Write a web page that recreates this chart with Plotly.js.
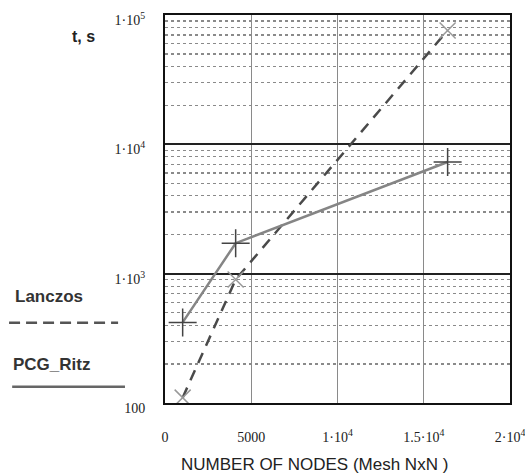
<!DOCTYPE html>
<html>
<head>
<meta charset="utf-8">
<script src="https://cdn.plot.ly/plotly-3.0.1.min.js"></script>
<style>html,body{margin:0;padding:0;background:#fff;}#chart{width:525px;height:474px;}</style>
</head>
<body>
<div id="chart"></div>
<script>
// Data
var nodes = [1024, 4096, 16384];
var pcgRitz = [420, 1720, 7300];
var lanczos = [110, 900, 76000];

var xTickVals = [0, 5000, 10000, 15000, 20000];
var xTickText = ['0', '5000', '1\u00b710<sup>4</sup>', '1.5\u00b710<sup>4</sup>', '2\u00b710<sup>4</sup>'];
var yTickVals = [100, 1000, 10000, 100000];
var yTickText = ['100', '1\u00b710<sup>3</sup>', '1\u00b710<sup>4</sup>', '1\u00b710<sup>5</sup>'];
var yMinorVals = [];
[100, 1000, 10000].forEach(function (d) { for (var k = 2; k <= 9; k++) yMinorVals.push(d * k); });

var traces = [
  {
    x: nodes, y: lanczos, type: 'scatter', mode: 'lines+markers', name: 'Lanczos',
    line: {color: '#4a4a4a', width: 2.5, dash: '11px,8px'},
    marker: {symbol: 'x-thin', size: 16, line: {color: '#999', width: 1.5}, color: '#999'},
    showlegend: false
  },
  {
    x: nodes, y: pcgRitz, type: 'scatter', mode: 'lines+markers', name: 'PCG_Ritz',
    line: {color: '#858585', width: 2.5},
    marker: {symbol: 'cross-thin', size: 20, line: {color: '#444', width: 1.5}, color: '#444'},
    showlegend: false
  }
];

var serif = 'Liberation Serif, Times New Roman, serif';
var sans = 'Liberation Sans, Arial, sans-serif';

var layout = {
  width: 525, height: 474,
  margin: {l: 165, r: 15, t: 15, b: 71},
  paper_bgcolor: '#fff', plot_bgcolor: '#fff',
  showlegend: false,
  xaxis: {
    range: [0, 20000], tickvals: xTickVals, ticktext: xTickText,
    ticks: '', ticklabelstandoff: 20, ticklabeloverflow: 'allow',
    tickfont: {family: serif, size: 14, color: '#222'},
    showgrid: true, gridcolor: '#8a8a8a', gridwidth: 1.2,
    showline: true, linecolor: '#111', linewidth: 2, mirror: true,
    zeroline: false, fixedrange: true
  },
  yaxis: {
    type: 'log', range: [2, 5], tickvals: yTickVals, ticktext: yTickText,
    ticks: '', ticklabelstandoff: 15, ticklabelshift: 5, ticklabeloverflow: 'allow',
    tickfont: {family: serif, size: 14, color: '#222'},
    showgrid: true, gridcolor: '#222', gridwidth: 2,
    minor: {tickvals: yMinorVals, showgrid: true, gridcolor: '#8a8a8a', griddash: 'dot', gridwidth: 1.2, ticks: ''},
    showline: true, linecolor: '#111', linewidth: 2, mirror: true,
    zeroline: false, fixedrange: true
  },
  annotations: [
    {text: '<b>t, s</b>', xref: 'paper', yref: 'paper', x: -0.235, y: 0.945, xanchor: 'center', yanchor: 'middle',
     showarrow: false, font: {family: sans, size: 16, color: '#222'}},
    {text: '<b>Lanczos</b>', xref: 'paper', yref: 'paper', x: -0.335, y: 0.275, xanchor: 'center', yanchor: 'middle',
     showarrow: false, font: {family: sans, size: 17, color: '#333'}},
    {text: '<b>PCG_Ritz</b>', xref: 'paper', yref: 'paper', x: -0.33, y: 0.1, xanchor: 'center', yanchor: 'middle',
     showarrow: false, font: {family: sans, size: 17, color: '#333'}},
    {text: 'NUMBER OF NODES (Mesh NxN )', xref: 'paper', yref: 'paper', x: 0.432, y: -0.158, xanchor: 'center', yanchor: 'middle',
     showarrow: false, font: {family: sans, size: 17, color: '#222'}}
  ],
  shapes: [
    {type: 'line', xref: 'paper', yref: 'paper', x0: -0.452, x1: -0.136, y0: 0.207, y1: 0.207,
     line: {color: '#555', width: 2.5, dash: '11px,6px'}},
    {type: 'line', xref: 'paper', yref: 'paper', x0: -0.443, x1: -0.116, y0: 0.042, y1: 0.042,
     line: {color: '#666', width: 2.5}}
  ]
};

Plotly.newPlot('chart', traces, layout, {displayModeBar: false, staticPlot: true});
</script>
</body>
</html>
